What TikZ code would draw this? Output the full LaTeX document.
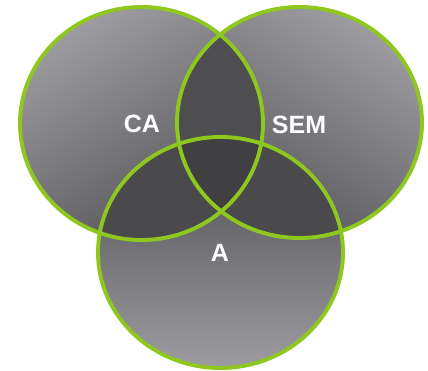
\documentclass[tikz,border=0pt]{standalone}
\usepackage{fontspec}
\setmainfont{Liberation Sans}
\begin{document}
\begin{tikzpicture}[x=1pt,y=1pt,
  ring/.style={draw=vgreen, line width=3.9pt},
  lbl/.style={text=white, font=\bfseries\fontsize{25}{30}\selectfont, inner sep=0pt}]
\definecolor{vgreen}{RGB}{142,200,30}
\definecolor{glight}{RGB}{156,156,161}
\definecolor{gmid}{RGB}{108,108,112}
\definecolor{gdark}{RGB}{84,84,88}
\definecolor{cdark}{RGB}{76,76,79}
\definecolor{lapA}{RGB}{78,78,81}
\definecolor{lapB}{RGB}{74,74,77}
\definecolor{lapC}{RGB}{64,64,67}
\useasboundingbox (0,0) rectangle (428,371);
\def\pathA{(141.5,247.5) ellipse [x radius=121.5, y radius=116.5]}
\def\pathB{(299.5,248.5) ellipse [x radius=122.5, y radius=115.5]}
\def\pathC{(220.5,118.5) ellipse [x radius=122.5, y radius=115.5]}
% fills
\shade[top color=glight, middle color=gmid, bottom color=gdark, shading angle=30] \pathA;
\shade[top color=glight, middle color=gmid, bottom color=gdark, shading angle=-30] \pathB;
\shade[top color=cdark, middle color=gmid, bottom color=glight] \pathC;
% overlaps
\begin{scope}
  \clip \pathA;
  \fill[lapA] \pathB;
\end{scope}
\begin{scope}
  \clip \pathA;
  \fill[lapB] \pathC;
\end{scope}
\begin{scope}
  \clip \pathB;
  \fill[lapB] \pathC;
\end{scope}
\begin{scope}
  \clip \pathA;
  \clip \pathB;
  \fill[lapC] \pathC;
\end{scope}
% outlines
\draw[ring] \pathA;
\draw[ring] \pathB;
\draw[ring] \pathC;
% labels
\node[lbl] (ca) at (142,247) {CA};
\node[lbl] (sem) at (299,246) {SEM};
\node[lbl] (a) at (220,118) {A};
\end{tikzpicture}
\end{document}
